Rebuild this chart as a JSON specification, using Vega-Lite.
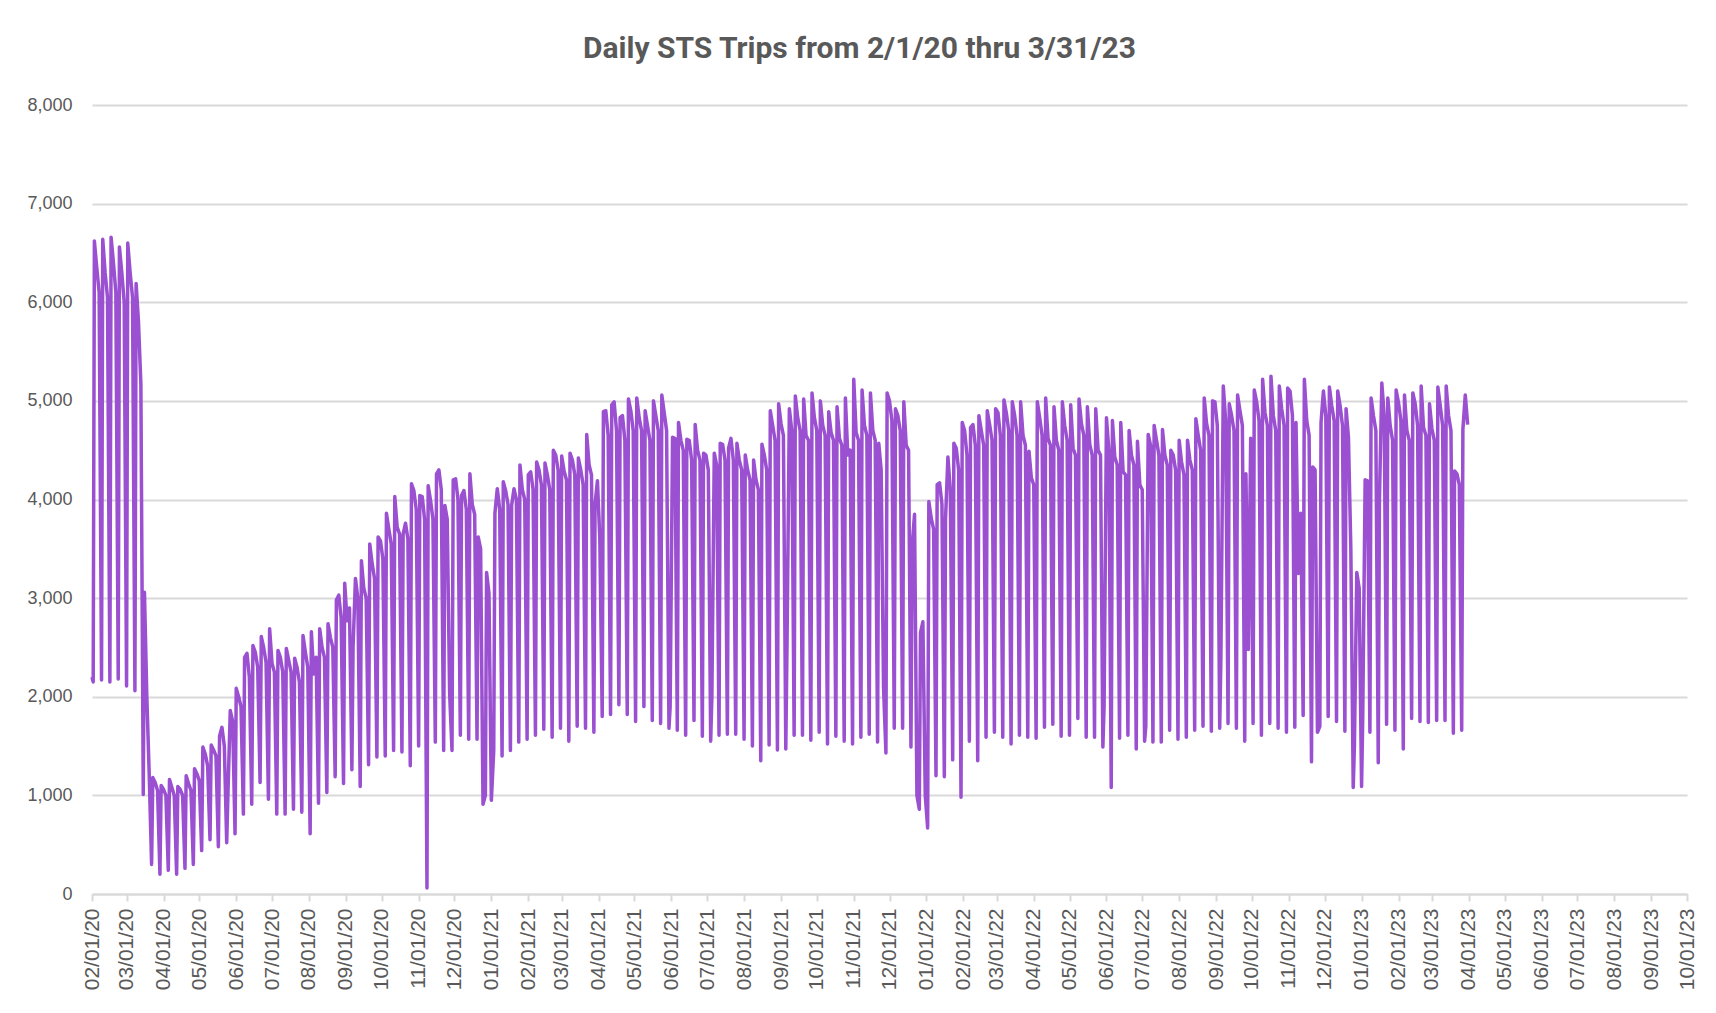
{
"$schema": "https://vega.github.io/schema/vega-lite/v6.json",
"width": 1595, "height": 789,
"autosize": {"type": "none"},
"padding": {"left": 92, "top": 105, "right": 29, "bottom": 119},
"background": "white",
"title": {"text": "Daily STS Trips from 2/1/20 thru 3/31/23", "font": "Roboto", "fontSize": 30, "fontWeight": "bold", "color": "#595959", "anchor": "middle", "frame": "group", "dx": -30, "offset": 32},
"data": {"values": [
{"date":"2020-02-01","trips":2200},
{"date":"2020-02-02","trips":2150},{"date":"2020-02-03","trips":6620},{"date":"2020-02-05","trips":6350},{"date":"2020-02-07","trips":6100},
{"date":"2020-02-09","trips":2170},{"date":"2020-02-10","trips":6640},{"date":"2020-02-12","trips":6300},{"date":"2020-02-14","trips":6050},
{"date":"2020-02-16","trips":2150},{"date":"2020-02-17","trips":6660},{"date":"2020-02-19","trips":6400},{"date":"2020-02-21","trips":6100},
{"date":"2020-02-23","trips":2180},{"date":"2020-02-24","trips":6560},{"date":"2020-02-26","trips":6300},{"date":"2020-02-28","trips":6000},
{"date":"2020-03-01","trips":2110},{"date":"2020-03-02","trips":6600},{"date":"2020-03-04","trips":6300},{"date":"2020-03-06","trips":6050},
{"date":"2020-03-08","trips":2060},{"date":"2020-03-09","trips":6190},{"date":"2020-03-11","trips":5800},{"date":"2020-03-13","trips":5170},
{"date":"2020-03-15","trips":1010},{"date":"2020-03-16","trips":3060},{"date":"2020-03-18","trips":2000},{"date":"2020-03-20","trips":1210},
{"date":"2020-03-22","trips":300},{"date":"2020-03-23","trips":1180},{"date":"2020-03-25","trips":1130},{"date":"2020-03-27","trips":1050},
{"date":"2020-03-29","trips":200},{"date":"2020-03-30","trips":1100},{"date":"2020-04-01","trips":1060},{"date":"2020-04-03","trips":1000},
{"date":"2020-04-05","trips":240},{"date":"2020-04-06","trips":1160},{"date":"2020-04-08","trips":1080},{"date":"2020-04-10","trips":1000},
{"date":"2020-04-12","trips":200},{"date":"2020-04-13","trips":1090},{"date":"2020-04-15","trips":1060},{"date":"2020-04-17","trips":1000},
{"date":"2020-04-19","trips":260},{"date":"2020-04-20","trips":1200},{"date":"2020-04-22","trips":1120},{"date":"2020-04-24","trips":1050},
{"date":"2020-04-26","trips":300},{"date":"2020-04-27","trips":1270},{"date":"2020-04-29","trips":1220},{"date":"2020-05-01","trips":1150},
{"date":"2020-05-03","trips":440},{"date":"2020-05-04","trips":1490},{"date":"2020-05-06","trips":1420},{"date":"2020-05-08","trips":1300},
{"date":"2020-05-10","trips":550},{"date":"2020-05-11","trips":1510},{"date":"2020-05-13","trips":1460},{"date":"2020-05-15","trips":1400},
{"date":"2020-05-17","trips":480},{"date":"2020-05-18","trips":1600},{"date":"2020-05-20","trips":1690},{"date":"2020-05-22","trips":1500},
{"date":"2020-05-24","trips":520},{"date":"2020-05-25","trips":1000},{"date":"2020-05-27","trips":1860},{"date":"2020-05-29","trips":1750},
{"date":"2020-05-31","trips":610},{"date":"2020-06-01","trips":2085},{"date":"2020-06-03","trips":2000},{"date":"2020-06-05","trips":1900},
{"date":"2020-06-07","trips":810},{"date":"2020-06-08","trips":2400},{"date":"2020-06-10","trips":2440},{"date":"2020-06-12","trips":2200},
{"date":"2020-06-14","trips":910},{"date":"2020-06-15","trips":2520},{"date":"2020-06-17","trips":2450},{"date":"2020-06-19","trips":2300},
{"date":"2020-06-21","trips":1130},{"date":"2020-06-22","trips":2610},{"date":"2020-06-24","trips":2500},{"date":"2020-06-26","trips":2350},
{"date":"2020-06-28","trips":960},{"date":"2020-06-29","trips":2690},{"date":"2020-07-01","trips":2340},{"date":"2020-07-03","trips":2250},
{"date":"2020-07-05","trips":810},{"date":"2020-07-06","trips":2470},{"date":"2020-07-08","trips":2400},{"date":"2020-07-10","trips":2250},
{"date":"2020-07-12","trips":810},{"date":"2020-07-13","trips":2490},{"date":"2020-07-15","trips":2370},{"date":"2020-07-17","trips":2250},
{"date":"2020-07-19","trips":860},{"date":"2020-07-20","trips":2390},{"date":"2020-07-22","trips":2300},{"date":"2020-07-24","trips":2150},
{"date":"2020-07-26","trips":830},{"date":"2020-07-27","trips":2620},{"date":"2020-07-29","trips":2450},{"date":"2020-07-31","trips":2300},
{"date":"2020-08-02","trips":610},{"date":"2020-08-03","trips":2660},{"date":"2020-08-05","trips":2230},{"date":"2020-08-07","trips":2400},
{"date":"2020-08-09","trips":920},{"date":"2020-08-10","trips":2690},{"date":"2020-08-12","trips":2500},{"date":"2020-08-14","trips":2400},
{"date":"2020-08-16","trips":1030},{"date":"2020-08-17","trips":2740},{"date":"2020-08-19","trips":2600},{"date":"2020-08-21","trips":2500},
{"date":"2020-08-23","trips":1190},{"date":"2020-08-24","trips":2980},{"date":"2020-08-26","trips":3030},{"date":"2020-08-28","trips":2800},
{"date":"2020-08-30","trips":1120},{"date":"2020-08-31","trips":3150},{"date":"2020-09-02","trips":2770},{"date":"2020-09-04","trips":2900},
{"date":"2020-09-06","trips":1260},{"date":"2020-09-07","trips":2500},{"date":"2020-09-09","trips":3200},{"date":"2020-09-11","trips":3000},
{"date":"2020-09-13","trips":1090},{"date":"2020-09-14","trips":3380},{"date":"2020-09-16","trips":3100},{"date":"2020-09-18","trips":3000},
{"date":"2020-09-20","trips":1310},{"date":"2020-09-21","trips":3550},{"date":"2020-09-23","trips":3350},{"date":"2020-09-25","trips":3200},
{"date":"2020-09-27","trips":1390},{"date":"2020-09-28","trips":3620},{"date":"2020-09-30","trips":3580},{"date":"2020-10-02","trips":3400},
{"date":"2020-10-04","trips":1400},{"date":"2020-10-05","trips":3860},{"date":"2020-10-07","trips":3700},{"date":"2020-10-09","trips":3550},
{"date":"2020-10-11","trips":1455},{"date":"2020-10-12","trips":4030},{"date":"2020-10-14","trips":3720},{"date":"2020-10-16","trips":3650},
{"date":"2020-10-18","trips":1440},{"date":"2020-10-19","trips":3650},{"date":"2020-10-21","trips":3760},{"date":"2020-10-23","trips":3600},
{"date":"2020-10-25","trips":1300},{"date":"2020-10-26","trips":4160},{"date":"2020-10-28","trips":4090},{"date":"2020-10-30","trips":3900},
{"date":"2020-11-01","trips":1500},{"date":"2020-11-02","trips":4040},{"date":"2020-11-04","trips":4030},{"date":"2020-11-06","trips":3800},
{"date":"2020-11-08","trips":60},{"date":"2020-11-09","trips":4140},{"date":"2020-11-11","trips":3990},{"date":"2020-11-13","trips":3800},
{"date":"2020-11-15","trips":1540},{"date":"2020-11-16","trips":4260},{"date":"2020-11-18","trips":4300},{"date":"2020-11-20","trips":4100},
{"date":"2020-11-22","trips":1455},{"date":"2020-11-23","trips":3940},{"date":"2020-11-25","trips":3800},{"date":"2020-11-27","trips":2040},
{"date":"2020-11-29","trips":1455},{"date":"2020-11-30","trips":4200},{"date":"2020-12-02","trips":4210},{"date":"2020-12-04","trips":4000},
{"date":"2020-12-06","trips":1610},{"date":"2020-12-07","trips":4040},{"date":"2020-12-09","trips":4090},{"date":"2020-12-11","trips":3900},
{"date":"2020-12-13","trips":1570},{"date":"2020-12-14","trips":4260},{"date":"2020-12-16","trips":3950},{"date":"2020-12-18","trips":3850},
{"date":"2020-12-20","trips":1570},{"date":"2020-12-21","trips":3620},{"date":"2020-12-23","trips":3500},{"date":"2020-12-25","trips":910},
{"date":"2020-12-27","trips":1000},{"date":"2020-12-28","trips":3260},{"date":"2020-12-30","trips":3050},{"date":"2021-01-01","trips":950},
{"date":"2021-01-03","trips":1450},{"date":"2021-01-04","trips":3860},{"date":"2021-01-06","trips":4110},{"date":"2021-01-08","trips":3900},
{"date":"2021-01-10","trips":1400},{"date":"2021-01-11","trips":4180},{"date":"2021-01-13","trips":4090},{"date":"2021-01-15","trips":3950},
{"date":"2021-01-17","trips":1455},{"date":"2021-01-18","trips":3940},{"date":"2021-01-20","trips":4110},{"date":"2021-01-22","trips":4000},
{"date":"2021-01-24","trips":1540},{"date":"2021-01-25","trips":4350},{"date":"2021-01-27","trips":4100},{"date":"2021-01-29","trips":4000},
{"date":"2021-01-31","trips":1570},{"date":"2021-02-01","trips":4250},{"date":"2021-02-03","trips":4280},{"date":"2021-02-05","trips":4100},
{"date":"2021-02-07","trips":1610},{"date":"2021-02-08","trips":4380},{"date":"2021-02-10","trips":4300},{"date":"2021-02-12","trips":4150},
{"date":"2021-02-14","trips":1670},{"date":"2021-02-15","trips":4370},{"date":"2021-02-17","trips":4250},{"date":"2021-02-19","trips":4100},
{"date":"2021-02-21","trips":1590},{"date":"2021-02-22","trips":4500},{"date":"2021-02-24","trips":4450},{"date":"2021-02-26","trips":4300},
{"date":"2021-02-28","trips":1680},{"date":"2021-03-01","trips":4440},{"date":"2021-03-03","trips":4290},{"date":"2021-03-05","trips":4200},
{"date":"2021-03-07","trips":1550},{"date":"2021-03-08","trips":4470},{"date":"2021-03-10","trips":4400},{"date":"2021-03-12","trips":4250},
{"date":"2021-03-14","trips":1700},{"date":"2021-03-15","trips":4420},{"date":"2021-03-17","trips":4300},{"date":"2021-03-19","trips":4150},
{"date":"2021-03-21","trips":1680},{"date":"2021-03-22","trips":4660},{"date":"2021-03-24","trips":4350},{"date":"2021-03-26","trips":4250},
{"date":"2021-03-28","trips":1640},{"date":"2021-03-29","trips":3950},{"date":"2021-03-31","trips":4190},{"date":"2021-04-02","trips":3600},
{"date":"2021-04-04","trips":1800},{"date":"2021-04-05","trips":4890},{"date":"2021-04-07","trips":4900},{"date":"2021-04-09","trips":4650},
{"date":"2021-04-11","trips":1820},{"date":"2021-04-12","trips":4960},{"date":"2021-04-14","trips":4990},{"date":"2021-04-16","trips":4700},
{"date":"2021-04-18","trips":1920},{"date":"2021-04-19","trips":4830},{"date":"2021-04-21","trips":4850},{"date":"2021-04-23","trips":4600},
{"date":"2021-04-25","trips":1820},{"date":"2021-04-26","trips":5020},{"date":"2021-04-28","trips":4900},{"date":"2021-04-30","trips":4700},
{"date":"2021-05-02","trips":1750},{"date":"2021-05-03","trips":5030},{"date":"2021-05-05","trips":4830},{"date":"2021-05-07","trips":4700},
{"date":"2021-05-09","trips":1900},{"date":"2021-05-10","trips":4900},{"date":"2021-05-12","trips":4750},{"date":"2021-05-14","trips":4600},
{"date":"2021-05-16","trips":1760},{"date":"2021-05-17","trips":5000},{"date":"2021-05-19","trips":4850},{"date":"2021-05-21","trips":4700},
{"date":"2021-05-23","trips":1730},{"date":"2021-05-24","trips":5060},{"date":"2021-05-26","trips":4880},{"date":"2021-05-28","trips":4700},
{"date":"2021-05-30","trips":1680},{"date":"2021-05-31","trips":1900},{"date":"2021-06-02","trips":4630},{"date":"2021-06-04","trips":4620},
{"date":"2021-06-06","trips":1660},{"date":"2021-06-07","trips":4780},{"date":"2021-06-09","trips":4600},{"date":"2021-06-11","trips":4500},
{"date":"2021-06-13","trips":1610},{"date":"2021-06-14","trips":4610},{"date":"2021-06-16","trips":4600},{"date":"2021-06-18","trips":4400},
{"date":"2021-06-20","trips":1760},{"date":"2021-06-21","trips":4760},{"date":"2021-06-23","trips":4500},{"date":"2021-06-25","trips":4400},
{"date":"2021-06-27","trips":1600},{"date":"2021-06-28","trips":4470},{"date":"2021-06-30","trips":4450},{"date":"2021-07-02","trips":4300},
{"date":"2021-07-04","trips":1550},{"date":"2021-07-05","trips":2000},{"date":"2021-07-07","trips":4470},{"date":"2021-07-09","trips":4350},
{"date":"2021-07-11","trips":1610},{"date":"2021-07-12","trips":4570},{"date":"2021-07-14","trips":4560},{"date":"2021-07-16","trips":4400},
{"date":"2021-07-18","trips":1620},{"date":"2021-07-19","trips":4520},{"date":"2021-07-21","trips":4620},{"date":"2021-07-23","trips":4400},
{"date":"2021-07-25","trips":1620},{"date":"2021-07-26","trips":4570},{"date":"2021-07-28","trips":4400},{"date":"2021-07-30","trips":4300},
{"date":"2021-08-01","trips":1570},{"date":"2021-08-02","trips":4450},{"date":"2021-08-04","trips":4300},{"date":"2021-08-06","trips":4200},
{"date":"2021-08-08","trips":1500},{"date":"2021-08-09","trips":4400},{"date":"2021-08-11","trips":4200},{"date":"2021-08-13","trips":4100},
{"date":"2021-08-15","trips":1350},{"date":"2021-08-16","trips":4560},{"date":"2021-08-18","trips":4450},{"date":"2021-08-20","trips":4300},
{"date":"2021-08-22","trips":1510},{"date":"2021-08-23","trips":4900},{"date":"2021-08-25","trips":4750},{"date":"2021-08-27","trips":4600},
{"date":"2021-08-29","trips":1460},{"date":"2021-08-30","trips":4970},{"date":"2021-09-01","trips":4770},{"date":"2021-09-03","trips":4650},
{"date":"2021-09-05","trips":1470},{"date":"2021-09-06","trips":2500},{"date":"2021-09-08","trips":4920},{"date":"2021-09-10","trips":4700},
{"date":"2021-09-12","trips":1610},{"date":"2021-09-13","trips":5050},{"date":"2021-09-15","trips":4830},{"date":"2021-09-17","trips":4700},
{"date":"2021-09-19","trips":1610},{"date":"2021-09-20","trips":5020},{"date":"2021-09-22","trips":4650},{"date":"2021-09-24","trips":4600},
{"date":"2021-09-26","trips":1560},{"date":"2021-09-27","trips":5080},{"date":"2021-09-29","trips":4830},{"date":"2021-10-01","trips":4700},
{"date":"2021-10-03","trips":1640},{"date":"2021-10-04","trips":5000},{"date":"2021-10-06","trips":4750},{"date":"2021-10-08","trips":4650},
{"date":"2021-10-10","trips":1520},{"date":"2021-10-11","trips":4890},{"date":"2021-10-13","trips":4680},{"date":"2021-10-15","trips":4600},
{"date":"2021-10-17","trips":1600},{"date":"2021-10-18","trips":4940},{"date":"2021-10-20","trips":4620},{"date":"2021-10-22","trips":4550},
{"date":"2021-10-24","trips":1550},{"date":"2021-10-25","trips":5030},{"date":"2021-10-27","trips":4450},{"date":"2021-10-29","trips":4500},
{"date":"2021-10-31","trips":1520},{"date":"2021-11-01","trips":5220},{"date":"2021-11-03","trips":4680},{"date":"2021-11-05","trips":4600},
{"date":"2021-11-07","trips":1590},{"date":"2021-11-08","trips":5110},{"date":"2021-11-10","trips":4750},{"date":"2021-11-12","trips":4650},
{"date":"2021-11-14","trips":1620},{"date":"2021-11-15","trips":5080},{"date":"2021-11-17","trips":4700},{"date":"2021-11-19","trips":4600},
{"date":"2021-11-21","trips":1540},{"date":"2021-11-22","trips":4570},{"date":"2021-11-24","trips":4300},{"date":"2021-11-26","trips":2100},
{"date":"2021-11-28","trips":1430},{"date":"2021-11-29","trips":5080},{"date":"2021-12-01","trips":5000},{"date":"2021-12-03","trips":4800},
{"date":"2021-12-05","trips":1680},{"date":"2021-12-06","trips":4920},{"date":"2021-12-08","trips":4850},{"date":"2021-12-10","trips":4700},
{"date":"2021-12-12","trips":1680},{"date":"2021-12-13","trips":4990},{"date":"2021-12-15","trips":4550},{"date":"2021-12-17","trips":4500},
{"date":"2021-12-19","trips":1490},{"date":"2021-12-20","trips":3530},{"date":"2021-12-22","trips":3850},{"date":"2021-12-24","trips":1000},
{"date":"2021-12-26","trips":860},{"date":"2021-12-27","trips":2650},{"date":"2021-12-29","trips":2760},{"date":"2021-12-31","trips":1000},
{"date":"2022-01-02","trips":670},{"date":"2022-01-03","trips":3980},{"date":"2022-01-05","trips":3810},{"date":"2022-01-07","trips":3700},
{"date":"2022-01-09","trips":1200},{"date":"2022-01-10","trips":4150},{"date":"2022-01-12","trips":4170},{"date":"2022-01-14","trips":3950},
{"date":"2022-01-16","trips":1190},{"date":"2022-01-17","trips":3800},{"date":"2022-01-19","trips":4430},{"date":"2022-01-21","trips":4100},
{"date":"2022-01-23","trips":1360},{"date":"2022-01-24","trips":4570},{"date":"2022-01-26","trips":4520},{"date":"2022-01-28","trips":4300},
{"date":"2022-01-30","trips":980},{"date":"2022-01-31","trips":4780},{"date":"2022-02-02","trips":4700},{"date":"2022-02-04","trips":4450},
{"date":"2022-02-06","trips":1550},{"date":"2022-02-07","trips":4730},{"date":"2022-02-09","trips":4760},{"date":"2022-02-11","trips":4550},
{"date":"2022-02-13","trips":1350},{"date":"2022-02-14","trips":4850},{"date":"2022-02-16","trips":4700},{"date":"2022-02-18","trips":4550},
{"date":"2022-02-20","trips":1590},{"date":"2022-02-21","trips":4900},{"date":"2022-02-23","trips":4760},{"date":"2022-02-25","trips":4600},
{"date":"2022-02-27","trips":1640},{"date":"2022-02-28","trips":4920},{"date":"2022-03-02","trips":4880},{"date":"2022-03-04","trips":4650},
{"date":"2022-03-06","trips":1590},{"date":"2022-03-07","trips":5010},{"date":"2022-03-09","trips":4880},{"date":"2022-03-11","trips":4700},
{"date":"2022-03-13","trips":1520},{"date":"2022-03-14","trips":4990},{"date":"2022-03-16","trips":4850},{"date":"2022-03-18","trips":4650},
{"date":"2022-03-20","trips":1610},{"date":"2022-03-21","trips":4990},{"date":"2022-03-23","trips":4650},{"date":"2022-03-25","trips":4550},
{"date":"2022-03-27","trips":1590},{"date":"2022-03-28","trips":4490},{"date":"2022-03-30","trips":4220},{"date":"2022-04-01","trips":4150},
{"date":"2022-04-03","trips":1580},{"date":"2022-04-04","trips":4990},{"date":"2022-04-06","trips":4830},{"date":"2022-04-08","trips":4650},
{"date":"2022-04-10","trips":1690},{"date":"2022-04-11","trips":5030},{"date":"2022-04-13","trips":4620},{"date":"2022-04-15","trips":4550},
{"date":"2022-04-17","trips":1720},{"date":"2022-04-18","trips":4940},{"date":"2022-04-20","trips":4600},{"date":"2022-04-22","trips":4500},
{"date":"2022-04-24","trips":1600},{"date":"2022-04-25","trips":4990},{"date":"2022-04-27","trips":4750},{"date":"2022-04-29","trips":4600},
{"date":"2022-05-01","trips":1610},{"date":"2022-05-02","trips":4960},{"date":"2022-05-04","trips":4520},{"date":"2022-05-06","trips":4450},
{"date":"2022-05-08","trips":1780},{"date":"2022-05-09","trips":5020},{"date":"2022-05-11","trips":4770},{"date":"2022-05-13","trips":4650},
{"date":"2022-05-15","trips":1590},{"date":"2022-05-16","trips":4940},{"date":"2022-05-18","trips":4560},{"date":"2022-05-20","trips":4450},
{"date":"2022-05-22","trips":1590},{"date":"2022-05-23","trips":4920},{"date":"2022-05-25","trips":4500},{"date":"2022-05-27","trips":4450},
{"date":"2022-05-29","trips":1490},{"date":"2022-05-30","trips":1900},{"date":"2022-06-01","trips":4830},{"date":"2022-06-03","trips":4500},
{"date":"2022-06-05","trips":1080},{"date":"2022-06-06","trips":4800},{"date":"2022-06-08","trips":4430},{"date":"2022-06-10","trips":4350},
{"date":"2022-06-12","trips":1580},{"date":"2022-06-13","trips":4780},{"date":"2022-06-15","trips":4280},{"date":"2022-06-17","trips":4250},
{"date":"2022-06-19","trips":1610},{"date":"2022-06-20","trips":4700},{"date":"2022-06-22","trips":4450},{"date":"2022-06-24","trips":4350},
{"date":"2022-06-26","trips":1470},{"date":"2022-06-27","trips":4590},{"date":"2022-06-29","trips":4150},{"date":"2022-07-01","trips":4100},
{"date":"2022-07-03","trips":1550},{"date":"2022-07-04","trips":1700},{"date":"2022-07-06","trips":4660},{"date":"2022-07-08","trips":4550},
{"date":"2022-07-10","trips":1540},{"date":"2022-07-11","trips":4750},{"date":"2022-07-13","trips":4600},{"date":"2022-07-15","trips":4450},
{"date":"2022-07-17","trips":1540},{"date":"2022-07-18","trips":4710},{"date":"2022-07-20","trips":4450},{"date":"2022-07-22","trips":4350},
{"date":"2022-07-24","trips":1660},{"date":"2022-07-25","trips":4500},{"date":"2022-07-27","trips":4450},{"date":"2022-07-29","trips":4300},
{"date":"2022-07-31","trips":1570},{"date":"2022-08-01","trips":4600},{"date":"2022-08-03","trips":4380},{"date":"2022-08-05","trips":4250},
{"date":"2022-08-07","trips":1590},{"date":"2022-08-08","trips":4600},{"date":"2022-08-10","trips":4400},{"date":"2022-08-12","trips":4300},
{"date":"2022-08-14","trips":1660},{"date":"2022-08-15","trips":4820},{"date":"2022-08-17","trips":4650},{"date":"2022-08-19","trips":4500},
{"date":"2022-08-21","trips":1700},{"date":"2022-08-22","trips":5030},{"date":"2022-08-24","trips":4770},{"date":"2022-08-26","trips":4650},
{"date":"2022-08-28","trips":1650},{"date":"2022-08-29","trips":5000},{"date":"2022-08-31","trips":4990},{"date":"2022-09-02","trips":4750},
{"date":"2022-09-04","trips":1680},{"date":"2022-09-05","trips":2400},{"date":"2022-09-07","trips":5150},{"date":"2022-09-09","trips":4800},
{"date":"2022-09-11","trips":1730},{"date":"2022-09-12","trips":4970},{"date":"2022-09-14","trips":4850},{"date":"2022-09-16","trips":4700},
{"date":"2022-09-18","trips":1680},{"date":"2022-09-19","trips":5060},{"date":"2022-09-21","trips":4900},{"date":"2022-09-23","trips":4750},
{"date":"2022-09-25","trips":1550},{"date":"2022-09-26","trips":4260},{"date":"2022-09-28","trips":2480},{"date":"2022-09-30","trips":4620},
{"date":"2022-10-02","trips":1730},{"date":"2022-10-03","trips":5110},{"date":"2022-10-05","trips":4990},{"date":"2022-10-07","trips":4800},
{"date":"2022-10-09","trips":1610},{"date":"2022-10-10","trips":5220},{"date":"2022-10-12","trips":4880},{"date":"2022-10-14","trips":4750},
{"date":"2022-10-16","trips":1730},{"date":"2022-10-17","trips":5250},{"date":"2022-10-19","trips":4850},{"date":"2022-10-21","trips":4700},
{"date":"2022-10-23","trips":1680},{"date":"2022-10-24","trips":5150},{"date":"2022-10-26","trips":4920},{"date":"2022-10-28","trips":4750},
{"date":"2022-10-30","trips":1640},{"date":"2022-10-31","trips":5130},{"date":"2022-11-02","trips":5100},{"date":"2022-11-04","trips":4850},
{"date":"2022-11-06","trips":1690},{"date":"2022-11-07","trips":4780},{"date":"2022-11-09","trips":3250},{"date":"2022-11-11","trips":3860},
{"date":"2022-11-13","trips":1810},{"date":"2022-11-14","trips":5220},{"date":"2022-11-16","trips":4800},{"date":"2022-11-18","trips":4650},
{"date":"2022-11-20","trips":1340},{"date":"2022-11-21","trips":4330},{"date":"2022-11-23","trips":4300},{"date":"2022-11-25","trips":1640},
{"date":"2022-11-27","trips":1700},{"date":"2022-11-28","trips":4780},{"date":"2022-11-30","trips":5100},{"date":"2022-12-02","trips":4850},
{"date":"2022-12-04","trips":1800},{"date":"2022-12-05","trips":5140},{"date":"2022-12-07","trips":4950},{"date":"2022-12-09","trips":4800},
{"date":"2022-12-11","trips":1750},{"date":"2022-12-12","trips":5100},{"date":"2022-12-14","trips":4950},{"date":"2022-12-16","trips":4750},
{"date":"2022-12-18","trips":1650},{"date":"2022-12-19","trips":4920},{"date":"2022-12-21","trips":4630},{"date":"2022-12-23","trips":3500},
{"date":"2022-12-25","trips":1080},{"date":"2022-12-26","trips":1500},{"date":"2022-12-28","trips":3260},{"date":"2022-12-30","trips":3100},
{"date":"2023-01-01","trips":1090},{"date":"2023-01-02","trips":1800},{"date":"2023-01-04","trips":4200},{"date":"2023-01-06","trips":4190},
{"date":"2023-01-08","trips":1640},{"date":"2023-01-09","trips":5030},{"date":"2023-01-11","trips":4850},{"date":"2023-01-13","trips":4700},
{"date":"2023-01-15","trips":1330},{"date":"2023-01-16","trips":4000},{"date":"2023-01-18","trips":5180},{"date":"2023-01-20","trips":4850},
{"date":"2023-01-22","trips":1720},{"date":"2023-01-23","trips":5030},{"date":"2023-01-25","trips":4750},{"date":"2023-01-27","trips":4600},
{"date":"2023-01-29","trips":1660},{"date":"2023-01-30","trips":5110},{"date":"2023-02-01","trips":4980},{"date":"2023-02-03","trips":4800},
{"date":"2023-02-05","trips":1470},{"date":"2023-02-06","trips":5060},{"date":"2023-02-08","trips":4700},{"date":"2023-02-10","trips":4600},
{"date":"2023-02-12","trips":1780},{"date":"2023-02-13","trips":5080},{"date":"2023-02-15","trips":4970},{"date":"2023-02-17","trips":4750},
{"date":"2023-02-19","trips":1750},{"date":"2023-02-20","trips":5150},{"date":"2023-02-22","trips":4730},{"date":"2023-02-24","trips":4650},
{"date":"2023-02-26","trips":1740},{"date":"2023-02-27","trips":4970},{"date":"2023-03-01","trips":4720},{"date":"2023-03-03","trips":4600},
{"date":"2023-03-05","trips":1760},{"date":"2023-03-06","trips":5140},{"date":"2023-03-08","trips":4950},{"date":"2023-03-10","trips":4750},
{"date":"2023-03-12","trips":1760},{"date":"2023-03-13","trips":5150},{"date":"2023-03-15","trips":4850},{"date":"2023-03-17","trips":4700},
{"date":"2023-03-19","trips":1630},{"date":"2023-03-20","trips":4290},{"date":"2023-03-22","trips":4260},{"date":"2023-03-24","trips":4150},
{"date":"2023-03-26","trips":1660},{"date":"2023-03-27","trips":4710},{"date":"2023-03-29","trips":5060},{"date":"2023-03-31","trips":4760}
]},
"mark": {"type": "line", "color": "#9A50D0", "strokeWidth": 3.5, "strokeJoin": "round"},
"encoding": {
"x": {"field": "date", "type": "temporal",
 "scale": {"type": "utc", "domain": [{"year": 2020, "month": 2, "date": 1, "utc": true}, {"year": 2023, "month": 10, "date": 1, "utc": true}], "nice": false},
 "axis": {"title": null, "format": "%m/%d/%y", "labelAngle": -90, "tickCount": {"interval": "month", "step": 1}, "grid": false,
  "domainColor": "#d9d9d9", "domainWidth": 2, "tickColor": "#d9d9d9", "tickWidth": 2, "tickSize": 7,
  "labelFont": "Liberation Sans", "labelFontSize": 21, "labelColor": "#595959", "labelPadding": 7, "labelOverlap": false, "labelFlush": false}},
"y": {"field": "trips", "type": "quantitative",
 "scale": {"domain": [0, 8000], "nice": false},
 "axis": {"title": null, "values": [0, 1000, 2000, 3000, 4000, 5000, 6000, 7000, 8000], "format": ",d", "grid": true, "gridColor": "#d9d9d9", "gridWidth": 2,
  "domain": false, "ticks": false, "labelFont": "Liberation Sans", "labelFontSize": 18, "labelColor": "#595959", "labelPadding": 20}}
},
"config": {"view": {"stroke": null}}
}
